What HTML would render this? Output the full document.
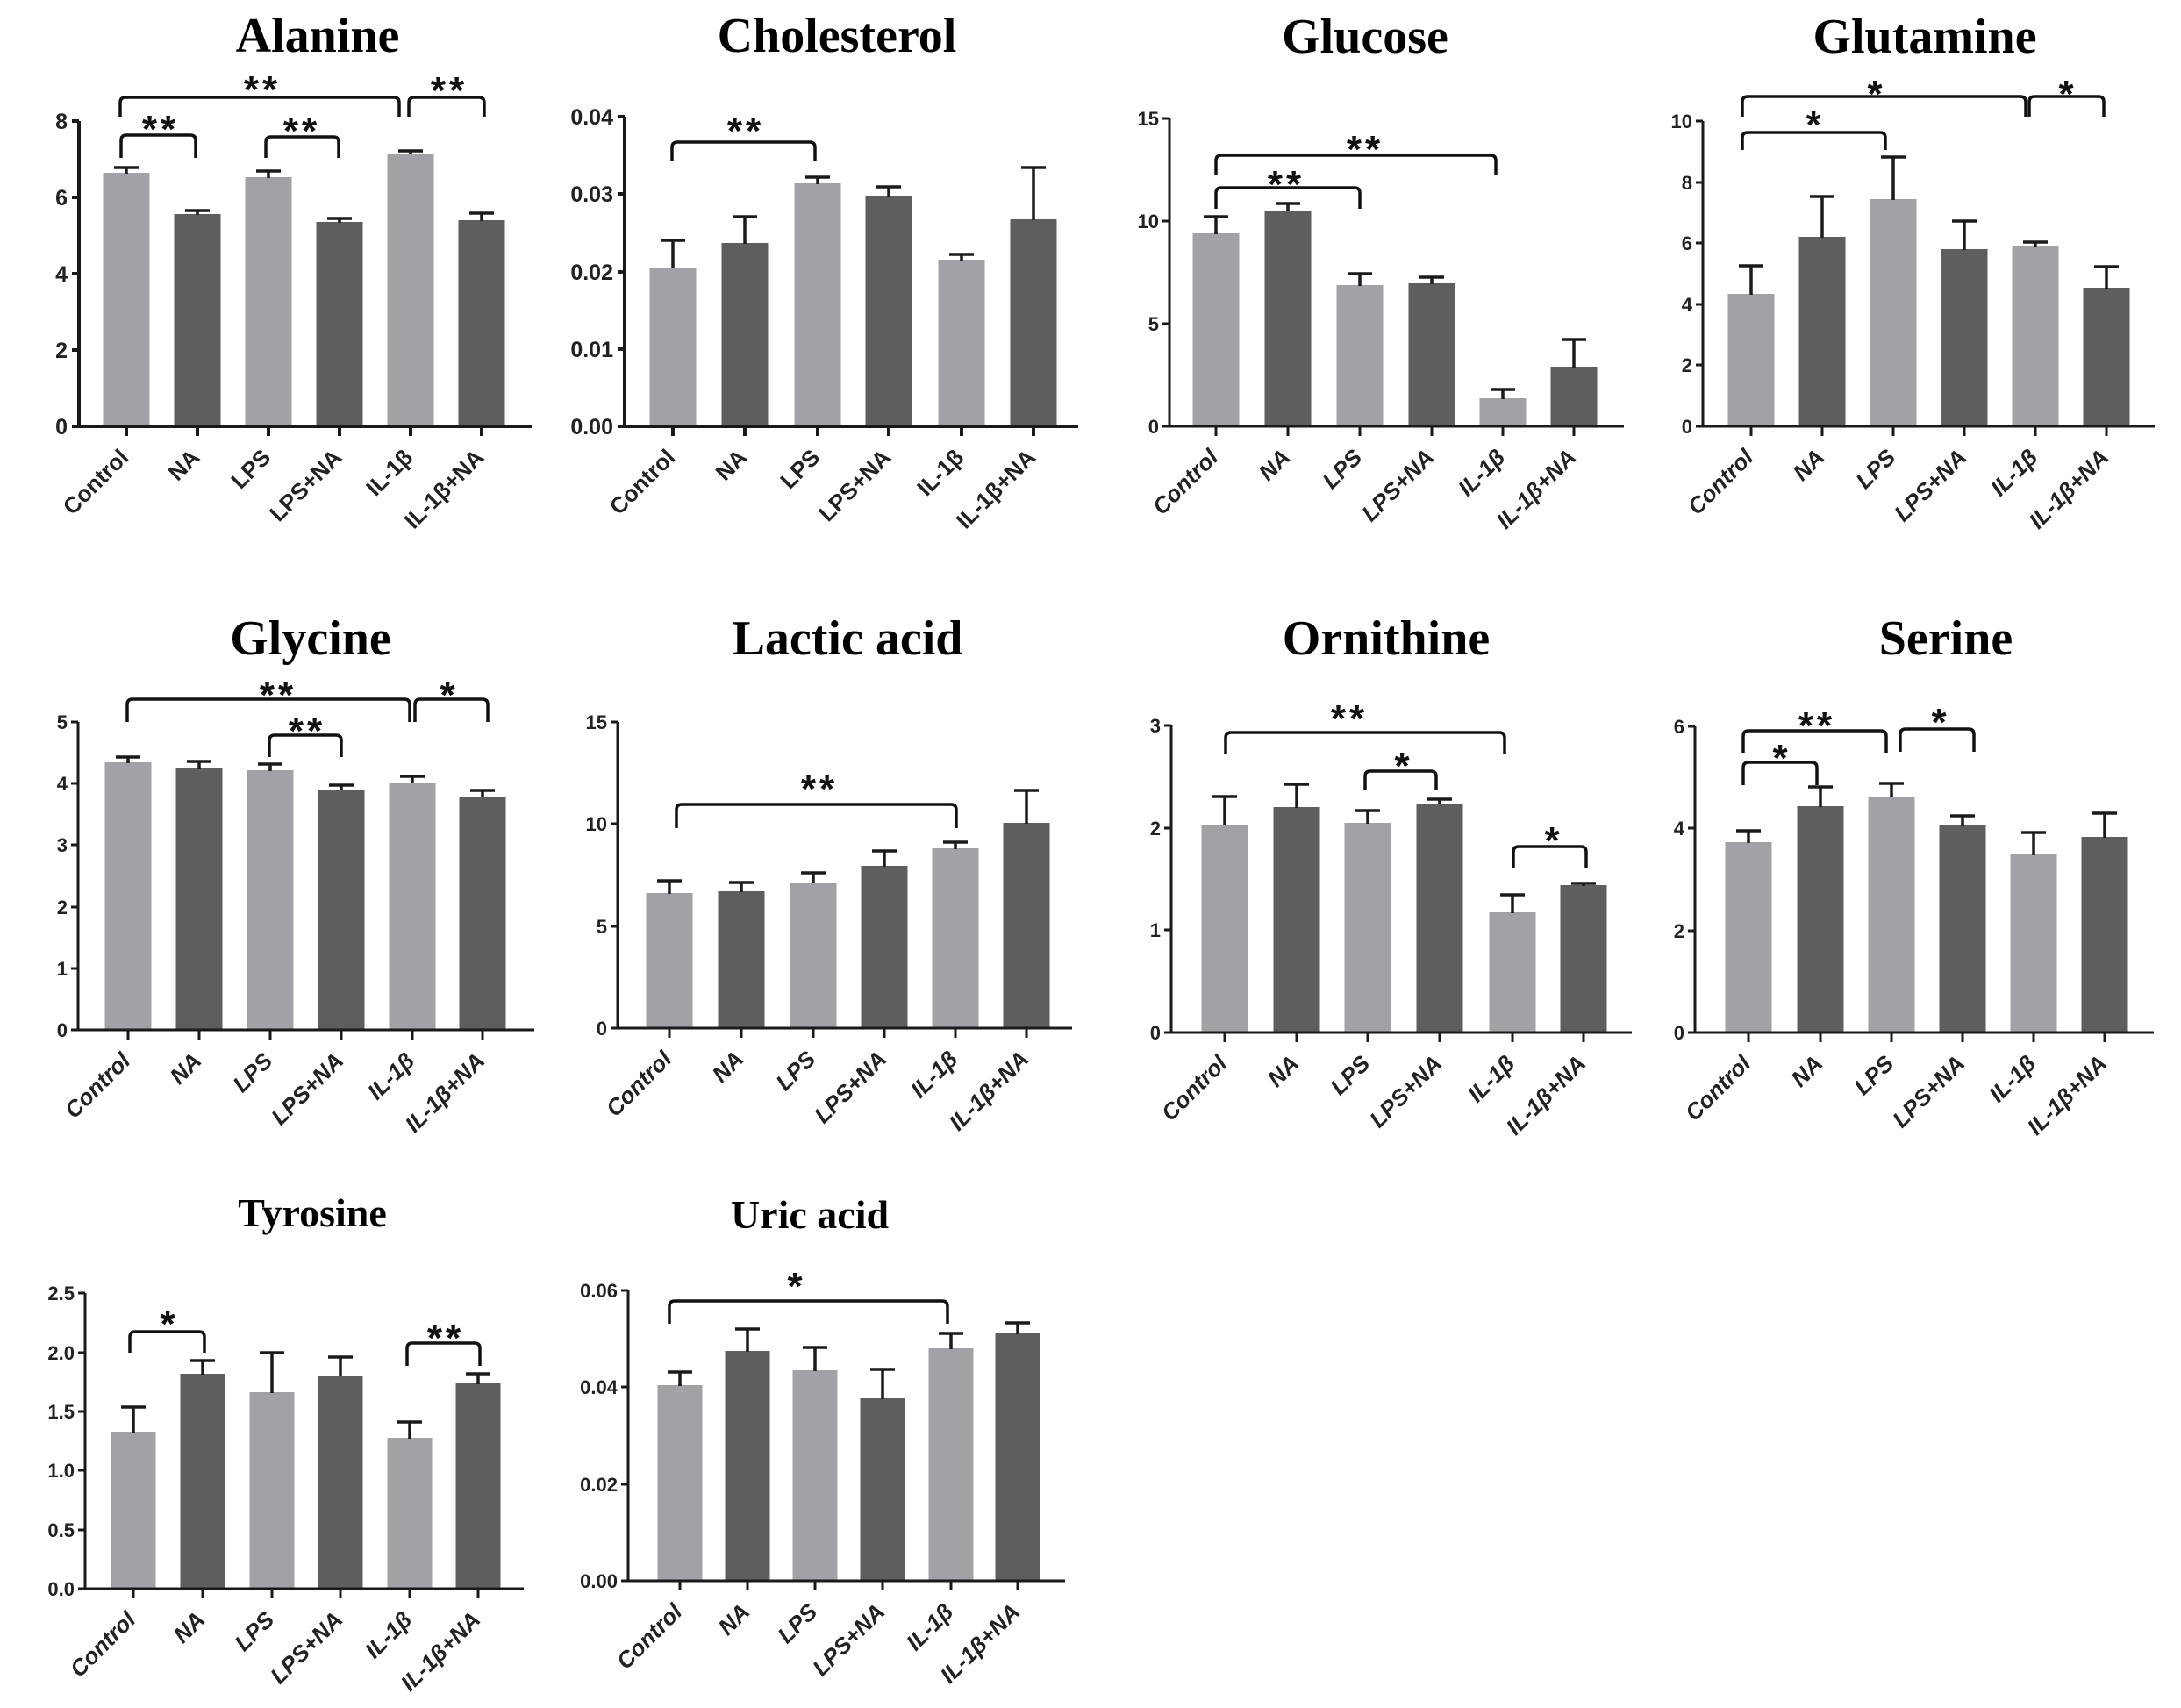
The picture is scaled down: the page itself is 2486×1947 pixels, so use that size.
<!DOCTYPE html>
<html><head><meta charset="utf-8"><style>
html,body{margin:0;padding:0;background:#fff;}
svg{display:block;}
.t{font-family:"Liberation Serif",serif;font-weight:bold;font-size:56px;text-anchor:middle;fill:#000;}
.t3{font-size:46px;}
.yl{font-family:"Liberation Sans",sans-serif;font-weight:bold;font-size:22px;text-anchor:end;fill:#222;}
.yb{font-size:25px;}
.xl{font-family:"Liberation Sans",sans-serif;font-weight:bold;font-size:26px;text-anchor:end;fill:#222;}
.xi{font-style:italic;}
.st{font-family:"Liberation Sans",sans-serif;font-weight:bold;font-size:44px;text-anchor:middle;letter-spacing:4px;fill:#111;}
.L{fill:#a2a1a6;}
.D{fill:#5e5e5e;}
.ax{fill:none;stroke:#1a1a1a;stroke-width:3;}
.ax4{stroke-width:4;}
.er{fill:none;stroke:#1a1a1a;stroke-width:3.5;}
.br{fill:none;stroke:#111;stroke-width:3.5;}
</style></head><body>
<svg width="2486" height="1947" viewBox="0 0 2486 1947" xmlns="http://www.w3.org/2000/svg">

<!-- ===== Alanine ===== -->
<text class="t" x="362" y="59">Alanine</text>
<rect class="L" x="117.5" y="197" width="53" height="289"/>
<rect class="D" x="198.5" y="244" width="53" height="242"/>
<rect class="L" x="279.5" y="202" width="53" height="284"/>
<rect class="D" x="360.5" y="253" width="53" height="233"/>
<rect class="L" x="441.5" y="175" width="53" height="311"/>
<rect class="D" x="522.5" y="251" width="53" height="235"/>
<path class="er" d="M144 198V191M130 191H158M225 245V240M211 240H239M306 203V195M292 195H320M387 254V249M373 249H401M468 176V172M454 172H482M549 252V243M535 243H563"/>
<path class="ax ax4" d="M90 138V486H606M82 138H90M82 225H90M82 312H90M82 399H90M82 486H90M144 486V497M225 486V497M306 486V497M387 486V497M468 486V497M549 486V497"/>
<text class="yl yb" x="77" y="147">8</text><text class="yl yb" x="77" y="234">6</text><text class="yl yb" x="77" y="321">4</text><text class="yl yb" x="77" y="408">2</text><text class="yl yb" x="77" y="495">0</text>
<text class="xl" transform="translate(148,523) rotate(-45)">Control</text>
<text class="xl" transform="translate(229,523) rotate(-45)">NA</text>
<text class="xl" transform="translate(310,523) rotate(-45)">LPS</text>
<text class="xl" transform="translate(391,523) rotate(-45)">LPS+NA</text>
<text class="xl" transform="translate(472,523) rotate(-45)">IL-1β</text>
<text class="xl" transform="translate(553,523) rotate(-45)">IL-1β+NA</text>
<path class="br" d="M138 180V160Q138 154 144 154H217Q223 154 223 160V180"/>
<path class="br" d="M303 180V162Q303 156 309 156H380Q386 156 386 162V180"/>
<path class="br" d="M137 133V117Q137 111 143 111H449Q455 111 455 117V133"/>
<path class="br" d="M466 133V117Q466 111 472 111H546Q552 111 552 117V133"/>
<text class="st" x="183" y="162">**</text>
<text class="st" x="344" y="164">**</text>
<text class="st" x="299" y="117">**</text>
<text class="st" x="512" y="118">**</text>

<!-- ===== Cholesterol ===== -->
<text class="t" x="954" y="59">Cholesterol</text>
<rect class="L" x="740.5" y="305" width="53" height="181"/>
<rect class="D" x="822.5" y="277" width="53" height="209"/>
<rect class="L" x="905.5" y="209" width="53" height="277"/>
<rect class="D" x="986.5" y="223" width="53" height="263"/>
<rect class="L" x="1069.5" y="296" width="53" height="190"/>
<rect class="D" x="1151.5" y="250" width="53" height="236"/>
<path class="er" d="M767 306V274M753 274H781M849 278V247M835 247H863M932 210V202M918 202H946M1013 224V213M999 213H1027M1096 297V290M1082 290H1110M1178 251V191M1164 191H1192"/>
<path class="ax ax4" d="M712 133V486H1229M704 133H712M704 221H712M704 310H712M704 398H712M704 486H712M767 486V497M849 486V497M932 486V497M1013 486V497M1096 486V497M1178 486V497"/>
<text class="yl yb" x="699" y="142">0.04</text><text class="yl yb" x="699" y="230">0.03</text><text class="yl yb" x="699" y="319">0.02</text><text class="yl yb" x="699" y="407">0.01</text><text class="yl yb" x="699" y="495">0.00</text>
<text class="xl" transform="translate(771,523) rotate(-45)">Control</text>
<text class="xl" transform="translate(853,523) rotate(-45)">NA</text>
<text class="xl" transform="translate(936,523) rotate(-45)">LPS</text>
<text class="xl" transform="translate(1017,523) rotate(-45)">LPS+NA</text>
<text class="xl" transform="translate(1100,523) rotate(-45)">IL-1β</text>
<text class="xl" transform="translate(1182,523) rotate(-45)">IL-1β+NA</text>
<path class="br" d="M766 184V168Q766 162 772 162H923Q929 162 929 168V184"/>
<text class="st" x="850" y="164">**</text>

<!-- ===== Glucose ===== -->
<text class="t" x="1556" y="60">Glucose</text>
<rect class="L" x="1359.5" y="266" width="53" height="220"/>
<rect class="D" x="1441.5" y="240" width="53" height="246"/>
<rect class="L" x="1523.5" y="325" width="53" height="161"/>
<rect class="D" x="1605.5" y="323" width="53" height="163"/>
<rect class="L" x="1686.5" y="454" width="53" height="32"/>
<rect class="D" x="1767.5" y="418" width="53" height="68"/>
<path class="er" d="M1386 267V247M1372 247H1400M1468 241V232M1454 232H1482M1550 326V312M1536 312H1564M1632 324V316M1618 316H1646M1713 455V444M1699 444H1727M1794 419V387M1780 387H1808"/>
<path class="ax" d="M1333 135V486H1851M1325 135H1333M1325 252H1333M1325 369H1333M1325 486H1333M1386 486V497M1468 486V497M1550 486V497M1632 486V497M1713 486V497M1794 486V497"/>
<text class="yl" x="1321" y="143">15</text><text class="yl" x="1321" y="260">10</text><text class="yl" x="1321" y="377">5</text><text class="yl" x="1321" y="494">0</text>
<text class="xl xi" transform="translate(1390,523) rotate(-45)">Control</text>
<text class="xl xi" transform="translate(1472,523) rotate(-45)">NA</text>
<text class="xl xi" transform="translate(1554,523) rotate(-45)">LPS</text>
<text class="xl xi" transform="translate(1636,523) rotate(-45)">LPS+NA</text>
<text class="xl xi" transform="translate(1717,523) rotate(-45)">IL-1β</text>
<text class="xl xi" transform="translate(1798,523) rotate(-45)">IL-1β+NA</text>
<path class="br" d="M1386 238V220Q1386 214 1392 214H1544Q1550 214 1550 220V238"/>
<path class="br" d="M1386 200V183Q1386 177 1392 177H1699Q1705 177 1705 183V200"/>
<text class="st" x="1466" y="225">**</text>
<text class="st" x="1556" y="185">**</text>

<!-- ===== Glutamine ===== -->
<text class="t" x="2194" y="60">Glutamine</text>
<rect class="L" x="1969.5" y="335" width="53" height="151"/>
<rect class="D" x="2050.5" y="270" width="53" height="216"/>
<rect class="L" x="2131.5" y="227" width="53" height="259"/>
<rect class="D" x="2212.5" y="284" width="53" height="202"/>
<rect class="L" x="2293.5" y="280" width="53" height="206"/>
<rect class="D" x="2374.5" y="328" width="53" height="158"/>
<path class="er" d="M1996 336V303M1982 303H2010M2077 271V224M2063 224H2091M2158 228V179M2144 179H2172M2239 285V252M2225 252H2253M2320 281V276M2306 276H2334M2401 329V304M2387 304H2415"/>
<path class="ax" d="M1941 138V486H2456M1933 138H1941M1933 208H1941M1933 277H1941M1933 347H1941M1933 416H1941M1933 486H1941M1996 486V497M2077 486V497M2158 486V497M2239 486V497M2320 486V497M2401 486V497"/>
<text class="yl" x="1929" y="146">10</text><text class="yl" x="1929" y="216">8</text><text class="yl" x="1929" y="285">6</text><text class="yl" x="1929" y="355">4</text><text class="yl" x="1929" y="424">2</text><text class="yl" x="1929" y="494">0</text>
<text class="xl xi" transform="translate(2000,523) rotate(-45)">Control</text>
<text class="xl xi" transform="translate(2081,523) rotate(-45)">NA</text>
<text class="xl xi" transform="translate(2162,523) rotate(-45)">LPS</text>
<text class="xl xi" transform="translate(2243,523) rotate(-45)">LPS+NA</text>
<text class="xl xi" transform="translate(2324,523) rotate(-45)">IL-1β</text>
<text class="xl xi" transform="translate(2405,523) rotate(-45)">IL-1β+NA</text>
<path class="br" d="M1986 171V157Q1986 151 1992 151H2143Q2149 151 2149 157V171"/>
<path class="br" d="M1986 133V116Q1986 110 1992 110H2303Q2309 110 2309 116V133"/>
<path class="br" d="M2313 133V116Q2313 110 2319 110H2392Q2398 110 2398 116V133"/>
<text class="st" x="2069" y="157">*</text>
<text class="st" x="2139" y="122">*</text>
<text class="st" x="2357" y="122">*</text>

<!-- ===== Glycine ===== -->
<text class="t" x="354" y="746">Glycine</text>
<rect class="L" x="119.5" y="869" width="53" height="305"/>
<rect class="D" x="200.5" y="876" width="53" height="298"/>
<rect class="L" x="281.5" y="878" width="53" height="296"/>
<rect class="D" x="362.5" y="900" width="53" height="274"/>
<rect class="L" x="443.5" y="892" width="53" height="282"/>
<rect class="D" x="523.5" y="908" width="53" height="266"/>
<path class="er" d="M146 870V863M132 863H160M227 877V868M213 868H241M308 879V871M294 871H322M389 901V895M375 895H403M470 893V885M456 885H484M550 909V901M536 901H564"/>
<path class="ax" d="M89 823V1174H609M81 823H89M81 893H89M81 963H89M81 1034H89M81 1104H89M81 1174H89M146 1174V1185M227 1174V1185M308 1174V1185M389 1174V1185M470 1174V1185M550 1174V1185"/>
<text class="yl" x="77" y="831">5</text><text class="yl" x="77" y="901">4</text><text class="yl" x="77" y="971">3</text><text class="yl" x="77" y="1042">2</text><text class="yl" x="77" y="1112">1</text><text class="yl" x="77" y="1182">0</text>
<text class="xl xi" transform="translate(150,1211) rotate(-45)">Control</text>
<text class="xl xi" transform="translate(231,1211) rotate(-45)">NA</text>
<text class="xl xi" transform="translate(312,1211) rotate(-45)">LPS</text>
<text class="xl xi" transform="translate(393,1211) rotate(-45)">LPS+NA</text>
<text class="xl xi" transform="translate(474,1211) rotate(-45)">IL-1β</text>
<text class="xl xi" transform="translate(554,1211) rotate(-45)">IL-1β+NA</text>
<path class="br" d="M307 863V844Q307 838 313 838H383Q389 838 389 844V863"/>
<path class="br" d="M145 823V803Q145 797 151 797H461Q467 797 467 803V823"/>
<path class="br" d="M473 823V803Q473 797 479 797H550Q556 797 556 803V823"/>
<text class="st" x="350" y="848">**</text>
<text class="st" x="317" y="807">**</text>
<text class="st" x="512" y="807">*</text>

<!-- ===== Lactic acid ===== -->
<text class="t" x="966" y="746">Lactic acid</text>
<rect class="L" x="736.5" y="1018" width="53" height="154"/>
<rect class="D" x="818.5" y="1016" width="53" height="156"/>
<rect class="L" x="900.5" y="1006" width="53" height="166"/>
<rect class="D" x="981.5" y="987" width="53" height="185"/>
<rect class="L" x="1062.5" y="967" width="53" height="205"/>
<rect class="D" x="1143.5" y="938" width="53" height="234"/>
<path class="er" d="M763 1019V1004M749 1004H777M845 1017V1006M831 1006H859M927 1007V995M913 995H941M1008 988V970M994 970H1022M1089 968V960M1075 960H1103M1170 939V901M1156 901H1184"/>
<path class="ax" d="M704 823V1172H1222M696 823H704M696 939H704M696 1056H704M696 1172H704M763 1172V1183M845 1172V1183M927 1172V1183M1008 1172V1183M1089 1172V1183M1170 1172V1183"/>
<text class="yl" x="692" y="831">15</text><text class="yl" x="692" y="947">10</text><text class="yl" x="692" y="1064">5</text><text class="yl" x="692" y="1180">0</text>
<text class="xl xi" transform="translate(767,1209) rotate(-45)">Control</text>
<text class="xl xi" transform="translate(849,1209) rotate(-45)">NA</text>
<text class="xl xi" transform="translate(931,1209) rotate(-45)">LPS</text>
<text class="xl xi" transform="translate(1012,1209) rotate(-45)">LPS+NA</text>
<text class="xl xi" transform="translate(1093,1209) rotate(-45)">IL-1β</text>
<text class="xl xi" transform="translate(1174,1209) rotate(-45)">IL-1β+NA</text>
<path class="br" d="M771 944V923Q771 917 777 917H1084Q1090 917 1090 923V944"/>
<text class="st" x="934" y="914">**</text>

<!-- ===== Ornithine ===== -->
<text class="t" x="1580" y="746">Ornithine</text>
<rect class="L" x="1369.5" y="940" width="53" height="237"/>
<rect class="D" x="1451.5" y="920" width="53" height="257"/>
<rect class="L" x="1532.5" y="938" width="53" height="239"/>
<rect class="D" x="1614.5" y="916" width="53" height="261"/>
<rect class="L" x="1697.5" y="1040" width="53" height="137"/>
<rect class="D" x="1778.5" y="1009" width="53" height="168"/>
<path class="er" d="M1396 941V908M1382 908H1410M1478 921V894M1464 894H1492M1559 939V924M1545 924H1573M1641 917V911M1627 911H1655M1724 1041V1020M1710 1020H1738M1805 1010V1007M1791 1007H1819"/>
<path class="ax" d="M1335 827V1177H1860M1327 827H1335M1327 944H1335M1327 1060H1335M1327 1177H1335M1396 1177V1188M1478 1177V1188M1559 1177V1188M1641 1177V1188M1724 1177V1188M1805 1177V1188"/>
<text class="yl" x="1323" y="835">3</text><text class="yl" x="1323" y="952">2</text><text class="yl" x="1323" y="1068">1</text><text class="yl" x="1323" y="1185">0</text>
<text class="xl xi" transform="translate(1400,1214) rotate(-45)">Control</text>
<text class="xl xi" transform="translate(1482,1214) rotate(-45)">NA</text>
<text class="xl xi" transform="translate(1563,1214) rotate(-45)">LPS</text>
<text class="xl xi" transform="translate(1645,1214) rotate(-45)">LPS+NA</text>
<text class="xl xi" transform="translate(1728,1214) rotate(-45)">IL-1β</text>
<text class="xl xi" transform="translate(1809,1214) rotate(-45)">IL-1β+NA</text>
<path class="br" d="M1397 860V841Q1397 835 1403 835H1709Q1715 835 1715 841V860"/>
<path class="br" d="M1556 901V885Q1556 879 1562 879H1631Q1637 879 1637 885V901"/>
<path class="br" d="M1725 989V971Q1725 965 1731 965H1802Q1808 965 1808 971V989"/>
<text class="st" x="1538" y="834">**</text>
<text class="st" x="1600" y="888">*</text>
<text class="st" x="1771" y="973">*</text>

<!-- ===== Serine ===== -->
<text class="t" x="2218" y="746">Serine</text>
<rect class="L" x="1966.5" y="960" width="53" height="217"/>
<rect class="D" x="2048.5" y="919" width="53" height="258"/>
<rect class="L" x="2129.5" y="908" width="53" height="269"/>
<rect class="D" x="2210.5" y="941" width="53" height="236"/>
<rect class="L" x="2291.5" y="974" width="53" height="203"/>
<rect class="D" x="2372.5" y="954" width="53" height="223"/>
<path class="er" d="M1993 961V947M1979 947H2007M2075 920V897M2061 897H2089M2156 909V893M2142 893H2170M2237 942V930M2223 930H2251M2318 975V949M2304 949H2332M2399 955V927M2385 927H2413"/>
<path class="ax" d="M1932 828V1177H2455M1924 828H1932M1924 944H1932M1924 1061H1932M1924 1177H1932M1993 1177V1188M2075 1177V1188M2156 1177V1188M2237 1177V1188M2318 1177V1188M2399 1177V1188"/>
<text class="yl" x="1920" y="836">6</text><text class="yl" x="1920" y="952">4</text><text class="yl" x="1920" y="1069">2</text><text class="yl" x="1920" y="1185">0</text>
<text class="xl xi" transform="translate(1997,1214) rotate(-45)">Control</text>
<text class="xl xi" transform="translate(2079,1214) rotate(-45)">NA</text>
<text class="xl xi" transform="translate(2160,1214) rotate(-45)">LPS</text>
<text class="xl xi" transform="translate(2241,1214) rotate(-45)">LPS+NA</text>
<text class="xl xi" transform="translate(2322,1214) rotate(-45)">IL-1β</text>
<text class="xl xi" transform="translate(2403,1214) rotate(-45)">IL-1β+NA</text>
<path class="br" d="M1987 895V875Q1987 869 1993 869H2065Q2071 869 2071 875V895"/>
<path class="br" d="M1987 858V839Q1987 833 1993 833H2144Q2150 833 2150 839V858"/>
<path class="br" d="M2166 857V837Q2166 831 2172 831H2244Q2250 831 2250 837V857"/>
<text class="st" x="2031" y="879">*</text>
<text class="st" x="2071" y="842">**</text>
<text class="st" x="2212" y="838">*</text>

<!-- ===== Tyrosine ===== -->
<text class="t t3" x="356" y="1398">Tyrosine</text>
<rect class="L" x="126.5" y="1632" width="51" height="179"/>
<rect class="D" x="205.5" y="1566" width="51" height="245"/>
<rect class="L" x="284.5" y="1587" width="51" height="224"/>
<rect class="D" x="362.5" y="1568" width="51" height="243"/>
<rect class="L" x="441.5" y="1639" width="51" height="172"/>
<rect class="D" x="519.5" y="1577" width="51" height="234"/>
<path class="er" d="M152 1633V1604M138 1604H166M231 1567V1551M217 1551H245M310 1588V1542M296 1542H324M388 1569V1547M374 1547H402M467 1640V1621M453 1621H481M545 1578V1566M531 1566H559"/>
<path class="ax" d="M97 1474V1811H597M89 1474H97M89 1542H97M89 1609H97M89 1676H97M89 1744H97M89 1811H97M152 1811V1822M231 1811V1822M310 1811V1822M388 1811V1822M467 1811V1822M545 1811V1822"/>
<text class="yl" x="85" y="1482">2.5</text><text class="yl" x="85" y="1550">2.0</text><text class="yl" x="85" y="1617">1.5</text><text class="yl" x="85" y="1684">1.0</text><text class="yl" x="85" y="1752">0.5</text><text class="yl" x="85" y="1819">0.0</text>
<text class="xl xi" transform="translate(156,1848) rotate(-45)">Control</text>
<text class="xl xi" transform="translate(235,1848) rotate(-45)">NA</text>
<text class="xl xi" transform="translate(314,1848) rotate(-45)">LPS</text>
<text class="xl xi" transform="translate(392,1848) rotate(-45)">LPS+NA</text>
<text class="xl xi" transform="translate(471,1848) rotate(-45)">IL-1β</text>
<text class="xl xi" transform="translate(549,1848) rotate(-45)">IL-1β+NA</text>
<path class="br" d="M148 1542V1524Q148 1518 154 1518H227Q233 1518 233 1524V1542"/>
<path class="br" d="M464 1557V1537Q464 1531 470 1531H541Q547 1531 547 1537V1557"/>
<text class="st" x="193" y="1524">*</text>
<text class="st" x="508" y="1540">**</text>

<!-- ===== Uric acid ===== -->
<text class="t t3" x="923" y="1400">Uric acid</text>
<rect class="L" x="749.5" y="1579" width="51" height="223"/>
<rect class="D" x="826.5" y="1540" width="51" height="262"/>
<rect class="L" x="903.5" y="1562" width="51" height="240"/>
<rect class="D" x="980.5" y="1594" width="51" height="208"/>
<rect class="L" x="1058.5" y="1537" width="51" height="265"/>
<rect class="D" x="1134.5" y="1520" width="51" height="282"/>
<path class="er" d="M775 1580V1564M761 1564H789M852 1541V1515M838 1515H866M929 1563V1536M915 1536H943M1006 1595V1561M992 1561H1020M1084 1538V1520M1070 1520H1098M1160 1521V1508M1146 1508H1174"/>
<path class="ax" d="M716 1471V1802H1214M708 1471H716M708 1581H716M708 1692H716M708 1802H716M775 1802V1813M852 1802V1813M929 1802V1813M1006 1802V1813M1084 1802V1813M1160 1802V1813"/>
<text class="yl" x="704" y="1479">0.06</text><text class="yl" x="704" y="1589">0.04</text><text class="yl" x="704" y="1700">0.02</text><text class="yl" x="704" y="1810">0.00</text>
<text class="xl xi" transform="translate(779,1839) rotate(-45)">Control</text>
<text class="xl xi" transform="translate(856,1839) rotate(-45)">NA</text>
<text class="xl xi" transform="translate(933,1839) rotate(-45)">LPS</text>
<text class="xl xi" transform="translate(1010,1839) rotate(-45)">LPS+NA</text>
<text class="xl xi" transform="translate(1088,1839) rotate(-45)">IL-1β</text>
<text class="xl xi" transform="translate(1164,1839) rotate(-45)">IL-1β+NA</text>
<path class="br" d="M763 1509V1489Q763 1483 769 1483H1074Q1080 1483 1080 1489V1509"/>
<text class="st" x="908" y="1481">*</text>

</svg>
</body></html>
